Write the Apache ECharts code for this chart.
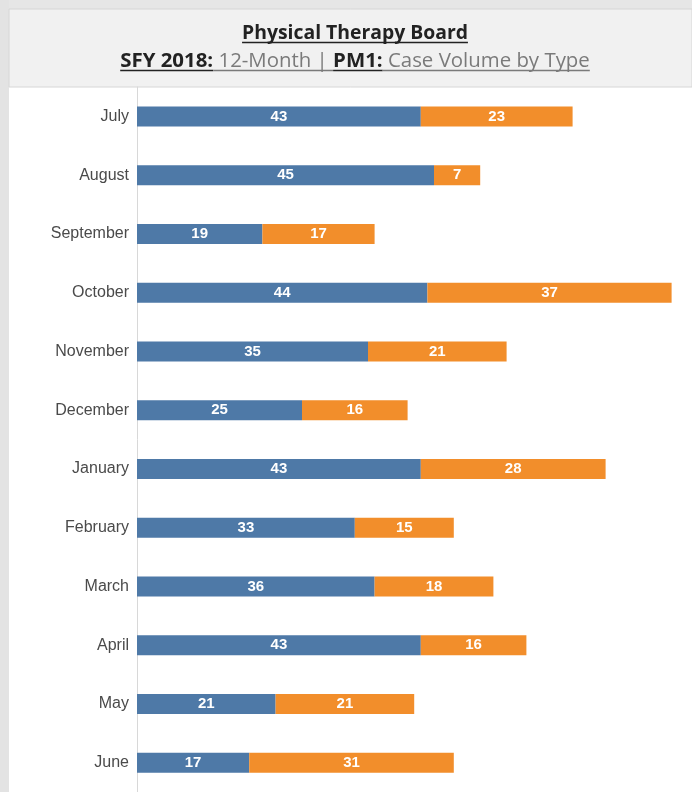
<!DOCTYPE html>
<html>
<head>
<meta charset="utf-8">
<script src="https://cdn.jsdelivr.net/npm/echarts@6/dist/echarts.min.js"></script>
<style>
html,body{margin:0;padding:0;background:#fff;}
#main{width:692px;height:792px;}
</style>
</head>
<body>
<div id="main"></div>
<script>
const months = ['July','August','September','October','November','December','January','February','March','April','May','June'];
const typeA = [43,45,19,44,35,25,43,33,36,43,21,17];
const typeB = [23,7,17,37,21,16,28,15,18,16,21,31];
const titleText = 'Physical Therapy Board';
const subParts = [
  {t:'SFY 2018:', bold:true, color:'#222'},
  {t:' 12-Month | ', bold:false, color:'#7a7a7a'},
  {t:'PM1:', bold:true, color:'#222'},
  {t:' Case Volume by Type', bold:false, color:'#7a7a7a'}
];

const FONT = '"Open Sans", "Noto Sans", sans-serif';
const cv = document.createElement('canvas').getContext('2d');
function mw(text, size, bold){ cv.font = (bold?'bold ':'') + size + 'px ' + FONT; return cv.measureText(text).width; }

const chart = echarts.init(document.getElementById('main'));
const graphics = [];
graphics.push({type:'rect', shape:{x:0,y:0,width:692,height:9}, style:{fill:'#e6e6e6'}, silent:true});
graphics.push({type:'rect', shape:{x:0,y:0,width:9,height:792}, style:{fill:'#e3e3e3'}, silent:true});
graphics.push({type:'rect', shape:{x:9,y:9,width:683,height:78}, style:{fill:'#f1f1f1', stroke:'#d6d6d6', lineWidth:1}, silent:true});

// title: fit to reference width ~226px
const tSize = 18 * 226 / mw(titleText, 18, true);
const tW = mw(titleText, tSize, true);
const tX = 355 - tW/2;
graphics.push({type:'text', x:tX, y:39 - 0.77*tSize, style:{text:titleText, font:'bold '+tSize.toFixed(2)+'px '+FONT, fill:'#222'}, silent:true});
graphics.push({type:'line', shape:{x1:tX,y1:42.5,x2:tX+tW,y2:42.5}, style:{stroke:'#222',lineWidth:1.3}, silent:true});

// subtitle: fit to ~470px
let base = 0;
subParts.forEach(p=>{ base += mw(p.t, 18, p.bold); });
const sSize = 18 * 470 / base;
let total = 0;
subParts.forEach(p=>{ p.w = mw(p.t, sSize, p.bold); total += p.w; });
let sx = 355 - total/2;
subParts.forEach(p=>{
  graphics.push({type:'text', x:sx, y:67 - 0.77*sSize, style:{text:p.t, font:(p.bold?'bold ':'')+sSize.toFixed(2)+'px '+FONT, fill:p.color}, silent:true});
  graphics.push({type:'line', shape:{x1:sx,y1:70.5,x2:sx+p.w,y2:70.5}, style:{stroke:p.color,lineWidth:1.3}, silent:true});
  sx += p.w;
});

const labelCfg = {show:true, position:'inside', color:'#fff', fontWeight:'bold', fontSize:15, fontFamily:'"Liberation Sans", Arial, sans-serif'};

chart.setOption({
  animation:false,
  backgroundColor:'#fff',
  graphic: graphics,
  grid:{left:137, top:87, width:554.4, height:708, containLabel:false},
  xAxis:{type:'value', min:0, max:84, show:false, splitLine:{show:false}},
  yAxis:{type:'category', data:months, inverse:true,
    axisLine:{show:true, lineStyle:{color:'#d8d8d8', width:1}},
    axisTick:{show:false},
    axisLabel:{color:'#4a4a4a', fontSize:16, fontFamily:'"Liberation Sans", Arial, sans-serif', margin:8}
  },
  series:[
    {name:'A', type:'bar', stack:'t', data:typeA, barWidth:20, itemStyle:{color:'#4e79a7'}, label:labelCfg},
    {name:'B', type:'bar', stack:'t', data:typeB, barWidth:20, itemStyle:{color:'#f28e2b'}, label:labelCfg}
  ]
});
</script>
</body>
</html>
